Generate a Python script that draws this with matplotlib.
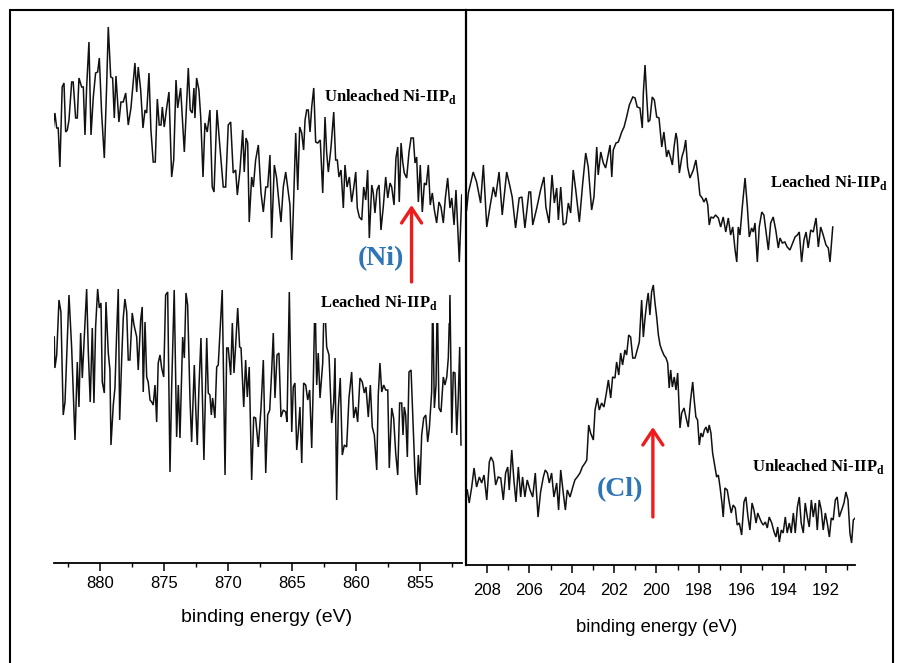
import matplotlib
matplotlib.use("Agg")
import matplotlib.pyplot as plt
from matplotlib.patches import Rectangle
from matplotlib.ticker import MultipleLocator

plt.rcParams["mathtext.fontset"] = "custom"
plt.rcParams["mathtext.rm"] = "Liberation Serif"
plt.rcParams["mathtext.bf"] = "Liberation Serif:bold"

# ---------------- Ni 2p region (binding energy, eV ; intensity, a.u.) ----------------
ni_unleached_be = [
    883.73, 883.52, 883.38, 883.26, 883.13, 882.95, 882.81, 882.68, 882.55, 882.42,
    882.21, 882.09, 881.90, 881.77, 881.64, 881.43, 881.30, 881.17, 881.04, 880.86,
    880.70, 880.52, 880.34, 880.18, 880.05, 879.87, 879.66, 879.48, 879.35, 879.16,
    879.01, 878.88, 878.75, 878.52, 878.36, 878.18, 877.99, 877.79, 877.58, 877.40,
    877.27, 877.13, 877.01, 876.82, 876.64, 876.48, 876.35, 876.17, 876.02, 875.84,
    875.68, 875.52, 875.37, 875.23, 875.13, 874.98, 874.79, 874.61, 874.40, 874.24,
    874.06, 873.93, 873.70, 873.41, 873.10, 872.95, 872.79, 872.66, 872.58, 872.45,
    872.27, 872.13, 871.95, 871.80, 871.62, 871.41, 871.23, 871.09, 870.86, 870.63,
    870.37, 870.18, 869.98, 869.79, 869.59, 869.40, 869.27, 869.06, 868.85, 868.73,
    868.59, 868.46, 868.34, 868.15, 868.02, 867.84, 867.63, 867.42, 867.24, 867.05,
    866.90, 866.72, 866.59, 866.38, 866.20, 866.02, 865.86, 865.68, 865.49, 865.34,
    865.16, 865.02, 864.90, 864.71, 864.55, 864.40, 864.24, 864.09, 863.98, 863.85,
    863.73, 863.59, 863.46, 863.30, 863.15, 862.99, 862.79, 862.60, 862.42, 862.29,
    862.16, 861.95, 861.74, 861.59, 861.46, 861.33, 861.17, 860.99, 860.86, 860.70,
    860.52, 860.34, 860.18, 860.02, 859.90, 859.74, 859.55, 859.40, 859.24, 859.09,
    858.96, 858.77, 858.65, 858.52, 858.36, 858.20, 858.05, 857.87, 857.68, 857.52,
    857.34, 857.21, 857.03, 856.88, 856.74, 856.62, 856.48, 856.35, 856.23, 856.04,
    855.86, 855.70, 855.52, 855.39, 855.26, 855.13, 854.98, 854.82, 854.66, 854.51,
    854.35, 854.20, 854.04, 853.88, 853.70, 853.52, 853.36, 853.18, 853.02, 852.84,
    852.66, 852.52, 852.34, 852.19, 852.05, 851.93, 851.74,
]
ni_unleached_int = [
    425, 450, 435, 435, 396, 476, 480, 431, 433, 443,
    481, 481, 445, 445, 485, 476, 476, 428, 476, 521,
    428, 466, 490, 491, 505, 450, 405, 476, 536, 486,
    485, 445, 487, 441, 461, 461, 470, 438, 455, 481,
    500, 471, 496, 473, 435, 453, 450, 490, 433, 401,
    401, 464, 438, 438, 456, 436, 455, 471, 386, 403,
    483, 455, 475, 411, 495, 453, 450, 475, 445, 485,
    473, 446, 386, 440, 431, 453, 376, 371, 453, 416,
    376, 376, 438, 441, 390, 393, 368, 393, 433, 391,
    425, 420, 341, 386, 376, 403, 418, 370, 351, 376,
    376, 408, 325, 398, 385, 361, 341, 376, 391, 376,
    358, 303, 350, 430, 373, 436, 430, 413, 443, 453,
    453, 431, 456, 475, 421, 420, 423, 370, 446, 410,
    391, 416, 451, 403, 403, 386, 393, 355, 398, 376,
    386, 361, 375, 391, 355, 346, 343, 376, 363, 393,
    325, 378, 370, 350, 373, 378, 333, 356, 386, 365,
    380, 376, 358, 405, 416, 361, 420, 401, 390, 385,
    411, 425, 425, 400, 406, 361, 398, 351, 380, 378,
    398, 358, 370, 353, 340, 361, 356, 340, 365, 385,
    355, 365, 338, 373, 333, 301, 368,
]

ni_leached_be = [
    883.57, 883.52, 883.38, 883.20, 883.05, 882.87, 882.73, 882.42, 882.21, 881.95,
    881.77, 881.64, 881.51, 881.38, 881.23, 881.04, 880.91, 880.76, 880.60, 880.47,
    880.34, 880.18, 880.05, 879.92, 879.82, 879.66, 879.53, 879.35, 879.22, 879.14,
    878.96, 878.83, 878.70, 878.57, 878.46, 878.30, 878.18, 878.05, 877.91, 877.79,
    877.66, 877.48, 877.34, 877.13, 877.01, 876.82, 876.70, 876.62, 876.48, 876.35,
    876.23, 876.09, 875.96, 875.84, 875.70, 875.57, 875.45, 875.31, 875.18, 875.02,
    874.87, 874.71, 874.53, 874.40, 874.20, 874.01, 873.88, 873.75, 873.54, 873.41,
    873.28, 873.15, 872.97, 872.84, 872.63, 872.52, 872.40, 872.27, 872.11, 871.98,
    871.88, 871.66, 871.54, 871.41, 871.30, 871.20, 871.02, 870.88, 870.76, 870.57,
    870.45, 870.23, 870.10, 869.98, 869.79, 869.66, 869.53, 869.40, 869.24, 869.09,
    868.98, 868.77, 868.62, 868.49, 868.34, 868.15, 867.99, 867.84, 867.63, 867.42,
    867.24, 867.05, 866.90, 866.74, 866.59, 866.46, 866.33, 866.17, 866.02, 865.86,
    865.68, 865.49, 865.39, 865.21, 865.02, 864.90, 864.77, 864.63, 864.51, 864.38,
    864.24, 864.09, 863.93, 863.77, 863.62, 863.46, 863.34, 863.20, 863.07, 862.95,
    862.81, 862.60, 862.48, 862.29, 862.11, 861.90, 861.74, 861.64, 861.51, 861.38,
    861.23, 861.07, 860.91, 860.73, 860.55, 860.34, 860.18, 860.02, 859.87, 859.69,
    859.51, 859.35, 859.22, 859.04, 858.88, 858.73, 858.57, 858.38, 858.26, 858.13,
    857.99, 857.84, 857.68, 857.52, 857.40, 857.21, 857.06, 856.90, 856.74, 856.59,
    856.43, 856.33, 856.23, 856.12, 855.99, 855.86, 855.70, 855.55, 855.39, 855.26,
    855.13, 855.00, 854.87, 854.71, 854.55, 854.40, 854.27, 854.09, 854.01, 853.88,
    853.75, 853.65, 853.52, 853.36, 853.18, 853.05, 852.91, 852.79, 852.66, 852.52,
    852.40, 852.27, 852.13, 852.01, 851.90, 851.80,
]
ni_leached_int = [
    226, 195, 208, 263, 251, 148, 161, 268, 215, 123,
    201, 156, 230, 185, 225, 274, 211, 161, 235, 160,
    236, 274, 255, 260, 181, 170, 261, 210, 193, 118,
    158, 175, 228, 274, 143, 205, 245, 264, 251, 203,
    203, 250, 238, 226, 193, 243, 256, 171, 241, 186,
    181, 163, 161, 158, 178, 141, 200, 208, 195, 186,
    268, 271, 91, 175, 273, 126, 178, 125, 226, 205,
    270, 258, 165, 121, 198, 155, 118, 175, 225, 158,
    103, 225, 170, 168, 148, 165, 145, 196, 198, 245,
    273, 88, 215, 215, 188, 240, 190, 218, 255, 216,
    215, 156, 203, 166, 196, 83, 146, 145, 116, 155,
    203, 90, 148, 153, 191, 230, 165, 208, 210, 146,
    153, 151, 141, 271, 131, 176, 180, 113, 131, 156,
    100, 180, 178, 163, 173, 115, 178, 268, 178, 210,
    165, 200, 270, 216, 208, 140, 161, 205, 63, 155,
    185, 108, 118, 116, 165, 191, 145, 156, 141, 185,
    181, 170, 176, 146, 178, 136, 128, 93, 168, 200,
    171, 178, 173, 173, 95, 155, 145, 110, 88, 160,
    160, 128, 156, 148, 106, 191, 193, 141, 88, 68,
    108, 78, 128, 145, 148, 121, 135, 171, 268, 155,
    178, 268, 155, 151, 186, 178, 186, 205, 268, 130,
    191, 190, 128, 166, 216, 118,
]

# ---------------- Cl 2p region ----------------
cl_leached_be = [
    208.96, 208.88, 208.65, 208.49, 208.30, 208.17, 208.01, 207.86, 207.70, 207.59,
    207.43, 207.28, 207.07, 206.91, 206.81, 206.65, 206.48, 206.35, 206.21, 206.02,
    205.94, 205.84, 205.65, 205.47, 205.31, 205.22, 205.07, 204.93, 204.82, 204.71,
    204.63, 204.52, 204.40, 204.27, 204.16, 204.05, 203.93, 203.81, 203.64, 203.48,
    203.34, 203.22, 203.06, 202.95, 202.82, 202.75, 202.63, 202.51, 202.40, 202.30,
    202.19, 202.11, 202.04, 201.91, 201.80, 201.64, 201.53, 201.41, 201.28, 201.12,
    201.01, 200.91, 200.78, 200.67, 200.62, 200.54, 200.46, 200.39, 200.31, 200.20,
    200.10, 199.99, 199.88, 199.75, 199.65, 199.52, 199.44, 199.33, 199.25, 199.17,
    199.08, 199.02, 198.92, 198.80, 198.70, 198.62, 198.53, 198.42, 198.26, 198.14,
    198.03, 197.95, 197.84, 197.76, 197.66, 197.58, 197.51, 197.43, 197.32, 197.21,
    197.08, 196.97, 196.85, 196.73, 196.61, 196.50, 196.40, 196.29, 196.21, 196.14,
    196.06, 195.95, 195.82, 195.71, 195.62, 195.51, 195.43, 195.35, 195.24, 195.15,
    195.03, 194.93, 194.83, 194.72, 194.61, 194.49, 194.37, 194.25, 194.17, 194.06,
    193.94, 193.83, 193.70, 193.57, 193.46, 193.35, 193.26, 193.15, 193.04, 192.94,
    192.84, 192.72, 192.60, 192.47, 192.36, 192.25, 192.13, 192.00, 191.89, 191.81,
    191.68,
]
cl_leached_int = [
    355, 372, 393, 383, 362, 400, 338, 358, 378, 368,
    393, 350, 393, 378, 368, 337, 367, 368, 337, 373,
    373, 340, 357, 375, 388, 358, 342, 390, 362, 377,
    345, 378, 340, 342, 362, 352, 395, 375, 343, 382,
    412, 398, 355, 368, 418, 390, 413, 402, 397, 408,
    420, 388, 415, 422, 423, 433, 438, 448, 460, 468,
    467, 458, 457, 437, 472, 500, 468, 443, 445, 468,
    465, 448, 447, 418, 433, 408, 415, 407, 400, 418,
    432, 425, 392, 408, 415, 425, 398, 387, 395, 405,
    387, 370, 367, 363, 367, 360, 340, 348, 347, 350,
    347, 338, 348, 333, 347, 330, 338, 315, 303, 338,
    330, 358, 387, 358, 328, 337, 333, 342, 303, 338,
    353, 350, 333, 315, 342, 348, 335, 317, 327, 322,
    323, 318, 315, 322, 328, 330, 333, 303, 325, 333,
    317, 335, 333, 347, 318, 338, 330, 320, 317, 303,
    338,
]

cl_unleached_be = [
    208.93, 208.84, 208.72, 208.61, 208.49, 208.36, 208.25, 208.14, 208.01, 207.89,
    207.81, 207.70, 207.59, 207.47, 207.35, 207.23, 207.12, 207.02, 206.95, 206.83,
    206.73, 206.63, 206.52, 206.41, 206.32, 206.21, 206.10, 205.97, 205.84, 205.72,
    205.59, 205.47, 205.34, 205.25, 205.15, 205.06, 204.95, 204.84, 204.71, 204.62,
    204.52, 204.40, 204.30, 204.21, 204.08, 203.95, 203.85, 203.74, 203.61, 203.50,
    203.37, 203.29, 203.20, 203.11, 202.98, 202.90, 202.79, 202.70, 202.59, 202.48,
    202.38, 202.27, 202.16, 202.07, 201.96, 201.88, 201.78, 201.69, 201.60, 201.49,
    201.41, 201.31, 201.22, 201.12, 201.01, 200.91, 200.81, 200.70, 200.62, 200.54,
    200.46, 200.39, 200.31, 200.23, 200.15, 200.07, 199.99, 199.91, 199.83, 199.75,
    199.65, 199.55, 199.47, 199.40, 199.33, 199.25, 199.16, 199.08, 199.00, 198.89,
    198.81, 198.70, 198.61, 198.50, 198.39, 198.29, 198.22, 198.14, 198.06, 197.98,
    197.90, 197.82, 197.74, 197.66, 197.58, 197.51, 197.43, 197.35, 197.24, 197.16,
    197.08, 197.00, 196.91, 196.85, 196.77, 196.66, 196.56, 196.47, 196.38, 196.28,
    196.19, 196.09, 195.98, 195.87, 195.78, 195.68, 195.59, 195.49, 195.40, 195.30,
    195.22, 195.15, 195.05, 194.96, 194.86, 194.77, 194.68, 194.56, 194.45, 194.36,
    194.28, 194.20, 194.11, 194.02, 193.92, 193.83, 193.73, 193.64, 193.54, 193.45,
    193.35, 193.26, 193.17, 193.07, 192.98, 192.88, 192.79, 192.69, 192.60, 192.50,
    192.41, 192.32, 192.22, 192.13, 192.03, 191.94, 191.84, 191.75, 191.66, 191.56,
    191.47, 191.37, 191.26, 191.15, 191.06, 190.96, 190.87, 190.79, 190.71, 190.62,
]
cl_unleached_int = [
    75, 62, 78, 97, 78, 88, 82, 90, 65, 103,
    108, 103, 80, 88, 87, 65, 92, 98, 75, 115,
    85, 63, 98, 68, 88, 68, 85, 75, 68, 92,
    48, 73, 88, 95, 92, 82, 92, 68, 82, 55,
    95, 72, 55, 75, 68, 78, 85, 88, 92, 98,
    102, 105, 140, 132, 125, 155, 167, 155, 162, 158,
    170, 185, 167, 188, 187, 203, 190, 212, 200, 215,
    210, 230, 228, 207, 207, 215, 223, 265, 228, 247,
    262, 272, 250, 273, 280, 262, 248, 230, 220, 215,
    210, 207, 202, 177, 195, 178, 188, 175, 192, 137,
    152, 157, 148, 138, 165, 183, 165, 148, 145, 120,
    132, 128, 135, 138, 132, 140, 132, 112, 98, 88,
    90, 78, 62, 48, 77, 75, 62, 52, 60, 57,
    40, 42, 30, 63, 68, 48, 35, 62, 55, 42,
    52, 48, 43, 40, 43, 37, 48, 42, 33, 28,
    38, 23, 35, 32, 48, 32, 42, 32, 52, 32,
    58, 68, 42, 32, 62, 48, 38, 65, 48, 62,
    35, 65, 55, 35, 52, 42, 28, 47, 45, 65,
    68, 48, 55, 62, 73, 65, 32, 22, 45, 47,
]

ni_ticks = [880, 875, 870, 865, 860, 855]
cl_ticks = [208, 206, 204, 202, 200, 198, 196, 194, 192]

# annotation anchors (eV, a.u.)
ni_arrow_be, ni_arrow_from, ni_arrow_to = 855.66, 281, 358
cl_arrow_be, cl_arrow_from, cl_arrow_to = 200.17, 48, 138

W, H = 901, 663
fig = plt.figure(figsize=(W / 100, H / 100), dpi=100)

axL = fig.add_axes([54 / W, (H - 563) / H, (462 - 54) / W, (563 - 10) / H])
axR = fig.add_axes([466 / W, (H - 565) / H, (855 - 466) / W, (565 - 10) / H])

line_kw = dict(color="#111111", lw=1.1, solid_joinstyle="miter")
axL.plot(ni_unleached_be, ni_unleached_int, **line_kw)
axL.plot(ni_leached_be, ni_leached_int, **line_kw)
axR.plot(cl_leached_be, cl_leached_int, **line_kw)
axR.plot(cl_unleached_be, cl_unleached_int, **line_kw)

axL.set_xlim(883.59, 851.72)
axL.set_ylim(0, 553)
axR.set_xlim(208.99, 190.63)
axR.set_ylim(0, 555)

for ax in (axL, axR):
    for s in ("top", "right"):
        ax.spines[s].set_visible(False)
    ax.spines["bottom"].set_linewidth(1.3)
    ax.set_yticks([])
    ax.patch.set_alpha(0)
axL.spines["left"].set_visible(False)
axR.spines["left"].set_linewidth(1.6)

axL.set_xticks(ni_ticks)
axL.xaxis.set_minor_locator(MultipleLocator(2.5))
axL.tick_params(axis="x", which="major", direction="out", length=6, width=1.1,
                pad=3, labelsize=12)
axL.tick_params(axis="x", which="minor", direction="out", length=3, width=1.0)
for lab in axL.get_xticklabels():
    lab.set_family("Liberation Sans")

axR.set_xticks(cl_ticks)
axR.xaxis.set_minor_locator(MultipleLocator(1))
axR.tick_params(axis="x", which="major", direction="out", length=6, width=1.1,
                pad=7, labelsize=12)
axR.tick_params(axis="x", which="minor", direction="out", length=3.5, width=1.0)
for lab in axR.get_xticklabels():
    lab.set_family("Liberation Sans")

fig.text(267 / W, 1 - 617 / H, "binding energy (eV)", ha="center", va="center",
         fontsize=14, family="Liberation Sans")
fig.text(657 / W, 1 - 627 / H, "binding energy (eV)", ha="center", va="center",
         fontsize=13.3, family="Liberation Sans")

lab_kw = dict(ha="center", va="center", fontsize=12, fontweight="bold",
              family="Liberation Serif", color="black")
sub = r"$_\mathbf{d}$"
axL.text(857.34, 466, "Unleached Ni-IIP" + sub, zorder=5,
         bbox=dict(boxstyle="square,pad=0.3", fc="white", ec="none"), **lab_kw)
axL.text(858.24, 261, "Leached Ni-IIP" + sub, zorder=5,
         bbox=dict(boxstyle="square,pad=0.7", fc="white", ec="none"), **lab_kw)
axR.text(191.86, 382, "Leached Ni-IIP" + sub, zorder=5, clip_on=False, **lab_kw)
axR.text(192.35, 99, "Unleached Ni-IIP" + sub, zorder=5, clip_on=False, **lab_kw)

tag_kw = dict(ha="center", va="center", fontsize=20, fontweight="bold",
              family="Liberation Serif", color="#2E75B6", zorder=6)
axL.text(858.05, 304, "(Ni)", **tag_kw)
axR.text(201.72, 75, "(Cl)", **tag_kw)

arrow_kw = dict(arrowstyle="->,head_length=0.9,head_width=0.6", color="#EE1C1C",
                lw=2.4, mutation_scale=12, shrinkA=0, shrinkB=0)
axL.annotate("", xy=(ni_arrow_be, ni_arrow_to), xytext=(ni_arrow_be, ni_arrow_from),
             arrowprops=arrow_kw, zorder=7, annotation_clip=False)
axR.annotate("", xy=(cl_arrow_be, cl_arrow_to), xytext=(cl_arrow_be, cl_arrow_from),
             arrowprops=arrow_kw, zorder=7, annotation_clip=False)

# outer frame
fig.add_artist(Rectangle((10 / W, -0.05), (893 - 10) / W, (H - 10) / H + 0.05,
                         transform=fig.transFigure, fill=False, lw=1.5,
                         ec="black", clip_on=False))

fig.savefig("out.png", dpi=100)
